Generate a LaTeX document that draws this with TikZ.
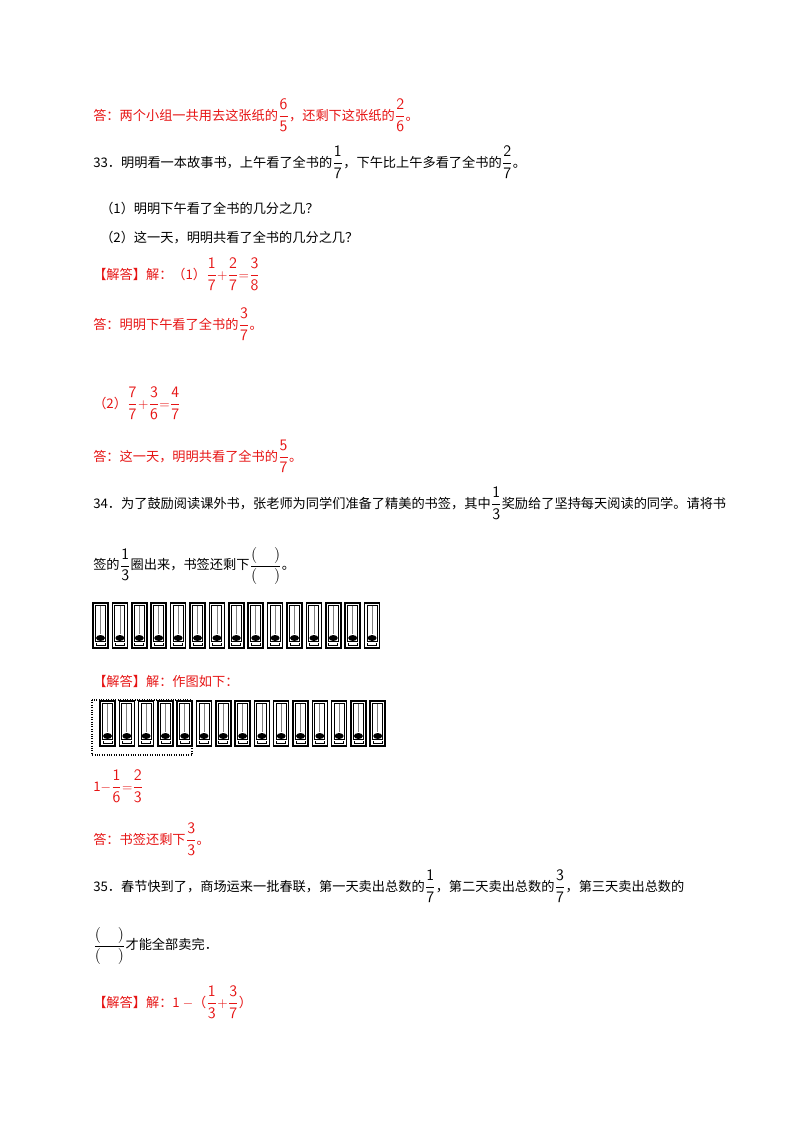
\documentclass[tikz,border=0pt]{standalone}
\usepackage{amsmath}
\usepackage{fontspec}
\setmainfont{Liberation Serif}
\newfontfamily\cjk{Noto Sans CJK SC}
\usetikzlibrary{positioning}
\newcommand{\fr}[2]{{\large$\dfrac{\mathsf{#1}}{\mathsf{#2}}$}}
\newcommand{\blankfr}{{\large$\dfrac{(\hphantom{\quad\ }\!)}{(\hphantom{\quad\ }\!)}$}}
\tikzset{
  line/.style={anchor=west,inner sep=0pt,font=\cjk\fontsize{9.9}{12}\selectfont},
  ans/.style={line,text={rgb,255:red,230;green,20;blue,20}},
  bkm/.pic={
    \begin{scope}[yscale=-1]
    \draw[line width=1.1] (0,0) rectangle (15,45);
    \draw[line width=0.7] (2.5,2.5) rectangle (12.5,38);
    \draw[gray,line width=0.6] (7.5,3) -- (7.5,31);
    \fill (7.5,35) ellipse [x radius=4.5,y radius=3];
    \draw[line width=0.6] (3,40) -- (3,42.5) -- (12,42.5) -- (12,40);
    \end{scope}
  }
}
\begin{document}
\begin{tikzpicture}[x=0.75pt,y=0.75pt,yscale=-1,xscale=1]
\useasboundingbox (0,0) rectangle (800,1132);

% Text Node
\node[ans] (a32) at (93,115) {答：两个小组一共用去这张纸的\fr{6}{5}，还剩下这张纸的\fr{2}{6}。};
% Text Node
\node[line] (q33) at (93,162) {33．明明看一本故事书，上午看了全书的\fr{1}{7}，下午比上午多看了全书的\fr{2}{7}。};
\node[line] (q33a) at (100,208) {（1）明明下午看了全书的几分之几？};
\node[line] (q33b) at (100,238) {（2）这一天，明明共看了全书的几分之几？};
\node[ans] (s33a) at (93,274) {【解答】解：（1）\fr{1}{7}$+$\fr{2}{7}$=$\fr{3}{8}};
\node[ans] (a33a) at (93,324) {答：明明下午看了全书的\fr{3}{7}。};
\node[ans] (s33b) at (93,403) {（2）\fr{7}{7}$+$\fr{3}{6}$=$\fr{4}{7}};
\node[ans] (a33b) at (93,456) {答：这一天，明明共看了全书的\fr{5}{7}。};

% Text Node
\node[line] (q34) at (93,503) {34．为了鼓励阅读课外书，张老师为同学们准备了精美的书签，其中\fr{1}{3}奖励给了坚持每天阅读的同学。请将书};
\node[line] (q34b) at (93,566) {签的\fr{1}{3}圈出来，书签还剩下\blankfr。};

%Bookmarks row 1
\foreach \i in {0,...,14}
  \pic at ({93+\i*19.4},603) {bkm};

\node[ans] (s34) at (93,681) {【解答】解：作图如下：};

%Bookmarks row 2
\foreach \i in {0,...,14}
  \pic at ({100+\i*19.3},701) {bkm};
\draw[densely dotted,line width=0.8] (92,700) rectangle (192,755);

\node[ans] (e34) at (93,786) {1$-$\fr{1}{6}$=$\fr{2}{3}};
\node[ans] (a34) at (93,839) {答：书签还剩下\fr{3}{3}。};

% Text Node
\node[line] (q35) at (93,886) {35．春节快到了，商场运来一批春联，第一天卖出总数的\fr{1}{7}，第二天卖出总数的\fr{3}{7}，第三天卖出总数的};
\node[line] (q35b) at (93,946) {\blankfr 才能全部卖完．};
\node[ans] (s35) at (93,1002) {【解答】解：1 $-$（\fr{1}{3}$+$\fr{3}{7}）};

\end{tikzpicture}
\end{document}
